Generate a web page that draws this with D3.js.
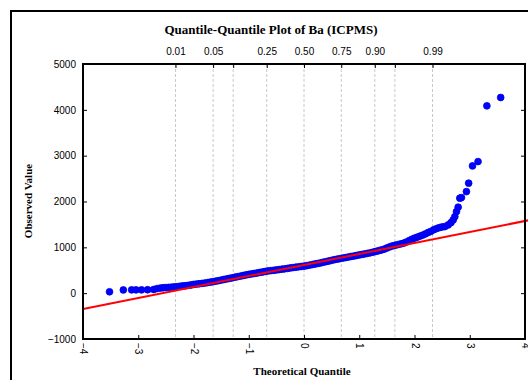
<!DOCTYPE html>
<html><head><meta charset="utf-8">
<script src="https://cdn.jsdelivr.net/npm/d3@7"></script>
<style>html,body{margin:0;padding:0;background:#fff;overflow:hidden}</style>
</head><body>
<svg id="c" width="528" height="380"></svg>
<script>
const titleText = "Quantile-Quantile Plot of Ba (ICPMS)";
const xLabel = "Theoretical Quantile";
const yLabel = "Observed Value";
const xTicks = [-4,-3,-2,-1,0,1,2,3,4];
const yTicks = [-1000,0,1000,2000,3000,4000,5000];
const probLabels = ["0.01","0.05","0.25","0.50","0.75","0.90","0.99"];
const probGrid = [0.01,0.05,0.10,0.25,0.50,0.75,0.90,0.95,0.99];
const fitIntercept = 615;
const fitSlope = 240;
// theoretical quantile of each observation
const theoQ = [
 -3.52,-3.27,-3.12,-3.04,-2.94,-2.83,-2.72,-2.66,
 -2.60,-2.55,-2.50,-2.45,-2.40,-2.35,-2.30,-2.25,-2.20,-2.15,-2.10,-2.05,
 -2.00,-1.95,-1.90,-1.85,-1.80,-1.75,-1.70,-1.65,-1.60,-1.55,-1.50,-1.45,
 -1.40,-1.35,-1.30,-1.25,-1.20,-1.15,-1.10,-1.05,-1.00,-0.95,-0.90,-0.85,
 -0.80,-0.75,-0.70,-0.65,-0.60,-0.55,-0.50,-0.45,-0.40,-0.35,-0.30,-0.25,
 -0.20,-0.15,-0.10,-0.05,0.00,0.05,0.10,0.15,0.20,0.25,0.30,0.35,
 0.40,0.45,0.50,0.55,0.60,0.65,0.70,0.75,0.80,0.85,0.90,0.95,
 1.00,1.05,1.10,1.15,1.20,1.25,1.30,1.35,1.40,1.45,1.50,1.55,
 1.60,1.65,1.70,1.75,1.80,1.85,1.90,1.95,2.00,2.05,2.10,2.15,
 2.20,2.25,2.30,2.35,2.40,2.45,2.50,
 2.55,2.61,2.66,2.70,2.73,2.76,2.79,2.82,2.85,2.94,2.98,3.05,3.15,3.31,3.56
];
// observed Ba values
const obsVal = [
 30,70,72,72,72,75,80,100,
 112,118,122,126,130,138,142,150,158,162,170,178,
 190,198,205,212,220,230,240,250,262,272,285,298,
 310,322,335,348,360,372,385,398,410,420,430,440,
 452,462,474,485,492,499,507,515,523,531,540,550,
 558,566,575,582,590,600,612,624,636,648,660,675,
 688,702,716,730,742,753,765,776,788,800,810,822,
 834,845,856,868,880,895,910,926,942,960,985,1010,
 1030,1045,1060,1075,1090,1115,1145,1175,1200,1222,1245,1268,
 1295,1325,1350,1385,1410,1430,1445,
 1452,1489,1539,1598,1670,1780,1876,2072,2085,2216,2400,2777,2871,4087,4269
];

const svg = d3.select("#c");
const L = 83, R = 525, T = 64, B = 339;
const x = d3.scaleLinear().domain([-4,4]).range([L,R]);
const y = d3.scaleLinear().domain([-1000,5000]).range([B,T]);

// outer frame
svg.append("rect").attr("x",11).attr("y",11).attr("width",540).attr("height",400)
  .attr("fill","none").attr("stroke","#000").attr("stroke-width",2);

// title
svg.append("text").attr("x",271).attr("y",34).attr("text-anchor","middle")
  .attr("font-family","Liberation Serif, Times New Roman, serif").attr("font-weight","bold")
  .attr("font-size",13).text(titleText);

function invNorm(p){ // normal quantile of a probability-axis value (Acklam)
  const a=[-39.69683028665376,220.9460984245205,-275.9285104469687,138.3577518672690,-30.66479806614716,2.506628277459239];
  const b=[-54.47609879822406,161.5858368580409,-155.6989798598866,66.80131188771670,-13.28068155288572];
  const c=[-0.007784894002430293,-0.3223964580411365,-2.400758277161838,-2.549732539343734,4.374664141464968,2.938163982698783];
  const d=[0.007784695709041462,0.3224671290700398,2.445134137142996,3.754408661907416];
  const pl=0.02425;
  if(p<pl){const q=Math.sqrt(-2*Math.log(p));return (((((c[0]*q+c[1])*q+c[2])*q+c[3])*q+c[4])*q+c[5])/((((d[0]*q+d[1])*q+d[2])*q+d[3])*q+1);}
  if(p>1-pl){const q=Math.sqrt(-2*Math.log(1-p));return -(((((c[0]*q+c[1])*q+c[2])*q+c[3])*q+c[4])*q+c[5])/((((d[0]*q+d[1])*q+d[2])*q+d[3])*q+1);}
  const q=p-0.5,r=q*q;return (((((a[0]*r+a[1])*r+a[2])*r+a[3])*r+a[4])*r+a[5])*q/(((((b[0]*r+b[1])*r+b[2])*r+b[3])*r+b[4])*r+1);
}
const g = svg.append("g");
g.selectAll("line.grid").data(probGrid).join("line").attr("class","grid")
  .attr("x1",p=>x(invNorm(p))).attr("x2",p=>x(invNorm(p)))
  .attr("y1",T).attr("y2",B).attr("stroke","#c8c8c8").attr("stroke-width",1)
  .attr("stroke-dasharray","3,2");

svg.append("clipPath").attr("id","pc").append("rect")
  .attr("x",L).attr("y",T).attr("width",R-L+3).attr("height",B-T);

// points
const pts = theoQ.map((q,i)=>({q, v: obsVal[i]}));
svg.append("g").selectAll("circle").data(pts).join("circle")
  .attr("cx",d=>x(d.q)).attr("cy",d=>y(d.v)).attr("r",3.4)
  .attr("fill","#0000ff").attr("stroke","#0000e0").attr("stroke-width",0.8);
// fit line drawn over the points
svg.append("line").attr("clip-path","url(#pc)")
  .attr("x1",x(-4)).attr("y1",y(fitIntercept+fitSlope*-4))
  .attr("x2",x(4.1)).attr("y2",y(fitIntercept+fitSlope*4.1))
  .attr("stroke","#ff0000").attr("stroke-width",2);

// axes
const font = "Liberation Sans, Arial, sans-serif";
const axL = d3.axisLeft(y).tickValues(yTicks).tickSize(-4).tickPadding(7).tickFormat(d3.format("d"));
svg.append("g").attr("transform",`translate(${L},0)`).call(axL);
const axR = d3.axisRight(y).tickValues(yTicks).tickSize(-4).tickFormat("");
svg.append("g").attr("transform",`translate(${R},0)`).call(axR);
const axB = d3.axisBottom(x).tickValues(xTicks).tickSize(-4).tickFormat(d3.format("d"));
const gb = svg.append("g").attr("transform",`translate(0,${B})`).call(axB);
gb.selectAll("text").attr("transform","rotate(90)").attr("text-anchor","start")
  .attr("x",4).attr("y",0).attr("dy","0.35em");
const axT = d3.axisTop(x).tickValues(probLabels.map(s=>invNorm(+s))).tickSize(-4).tickPadding(9)
  .tickFormat((d,i)=>probLabels[i]);
svg.append("g").attr("transform",`translate(0,${T})`).call(axT);
svg.append("g").attr("transform",`translate(0,${T})`)
  .call(d3.axisTop(x).tickValues([invNorm(0.10),invNorm(0.95)]).tickSize(-4).tickFormat(""));

svg.selectAll(".domain").attr("stroke","none");
svg.selectAll(".tick line").attr("stroke","#000").attr("stroke-width",1);
svg.selectAll(".tick text").attr("font-family",font).attr("font-size",10).attr("fill","#000");

// plot frame
svg.append("rect").attr("x",L).attr("y",T).attr("width",R-L).attr("height",B-T)
  .attr("fill","none").attr("stroke","#000").attr("stroke-width",2);

// axis labels
svg.append("text").attr("x",302).attr("y",375).attr("text-anchor","middle")
  .attr("font-family","Liberation Serif, Times New Roman, serif").attr("font-weight","bold")
  .attr("font-size",11).text(xLabel);
svg.append("text").attr("transform","translate(32,201) rotate(-90)").attr("text-anchor","middle")
  .attr("font-family","Liberation Serif, Times New Roman, serif").attr("font-weight","bold")
  .attr("font-size",11).text(yLabel);
</script>
</body></html>
